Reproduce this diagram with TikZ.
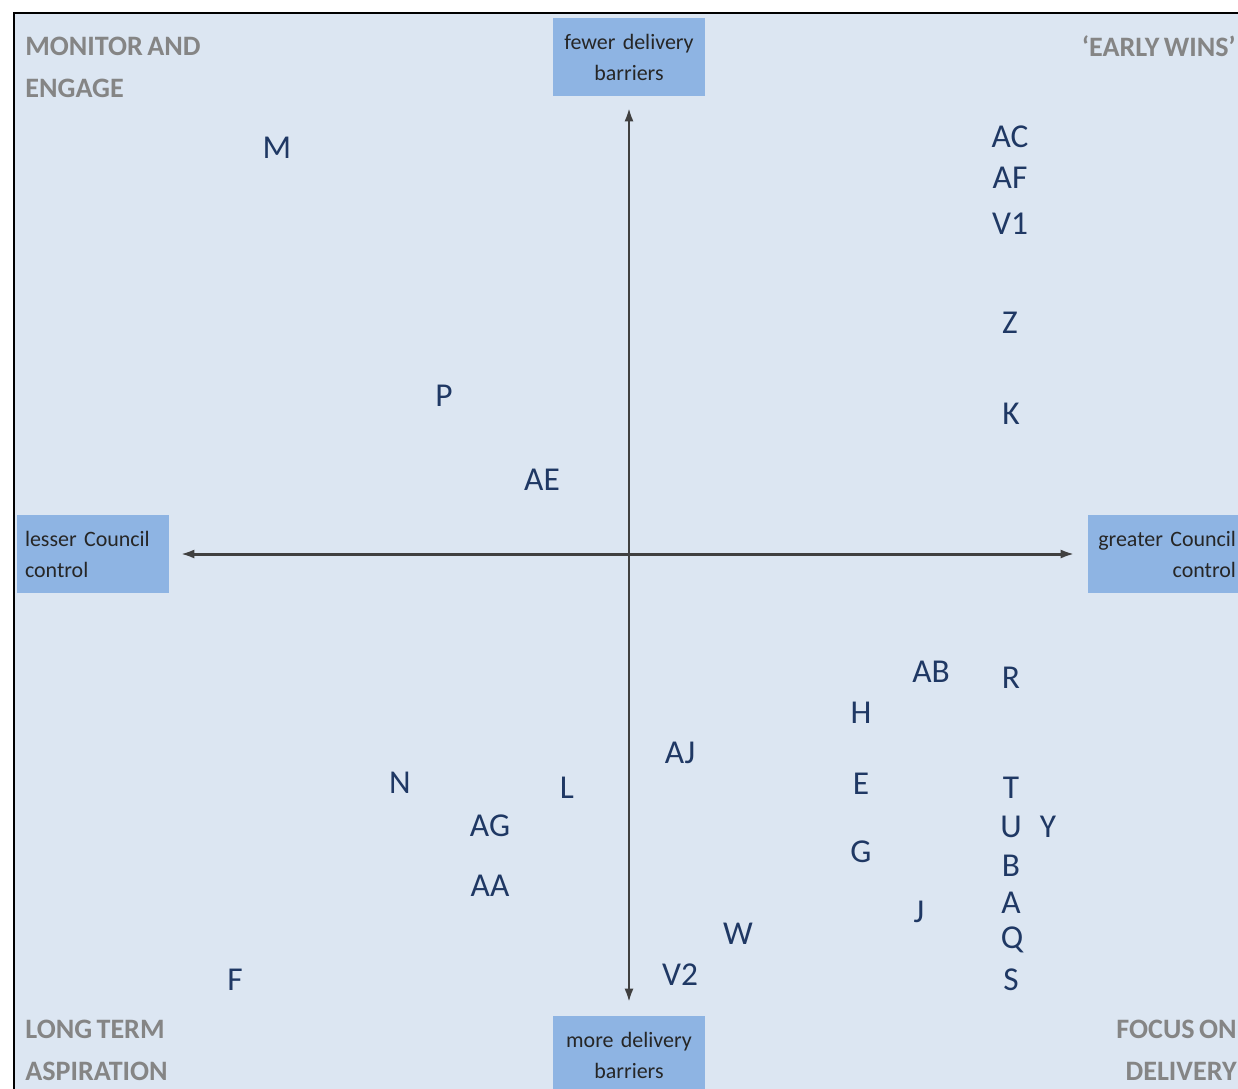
\documentclass[tikz,border=0pt]{standalone}
\usepackage{fontspec}
\setmainfont{Carlito}[WordSpace=0.7]
\usetikzlibrary{arrows.meta, positioning}
\definecolor{panelbg}{HTML}{DCE6F2}
\definecolor{axisfill}{HTML}{8EB4E3}
\definecolor{codeblue}{HTML}{1F3864}
\definecolor{cornergray}{HTML}{858585}
\tikzset{
  axisbox/.style={fill=axisfill, minimum width=3.04cm, minimum height=1.56cm, inner xsep=0.12cm, inner ysep=0pt, text width=2.8cm, text=black!85, font=\fontsize{12.5}{17.6}\selectfont},
  code/.style={text=codeblue, inner sep=0pt, font=\fontsize{19}{22}\selectfont},
  quadrant/.style={text=cornergray, inner sep=0pt, font=\bfseries\fontsize{16}{23.8}\selectfont},
  axis/.style={line width=1.7pt, draw=black!75, {Latex[open, length=0.28cm, width=0.18cm]}-{Latex[open, length=0.28cm, width=0.18cm]}}
}

\begin{document}
\begin{tikzpicture}[x=0.02cm, y=-0.02cm]
\useasboundingbox (0,0) rectangle (1238,1089);
% panel
\fill[panelbg] (14,13) rectangle (1238,1089);
\draw[line width=1.7pt] (14,1089) -- (14,13) -- (1238,13);

% axis end labels
\node[axisbox, align=center] (fewer) at (629,57) {fewer delivery\\barriers};
\node[axisbox, align=center] (more) at (629,1055) {more delivery\\barriers};
\node[axisbox, align=left, inner xsep=0.16cm, text width=2.72cm] (lesser) at (93,554) {lesser Council\\control};
\node[axisbox, align=right, inner xsep=0.08cm, text width=2.88cm] (greater) at (1164,554) {greater Council\\control};

% axes
\draw[axis, shorten <=0.22cm, shorten >=0.26cm] (fewer) -- (more);
\draw[axis, shorten <=0.22cm, shorten >=0.26cm] (lesser) -- (greater);

% quadrant titles
\node[quadrant, anchor=west, align=left] (monitor) at (25,67) {MONITOR AND\\ENGAGE};
\node[quadrant, anchor=east, align=right] (early) at (1236,46) {‘EARLY WINS’};
\node[quadrant, anchor=west, align=left] (longterm) at (25,1050) {LONG TERM\\ASPIRATION};
\node[quadrant, anchor=east, align=right] (focus) at (1237,1050) {FOCUS ON\\DELIVERY};

% items
\node[code] (M) at (277,148) {M};
\node[code] (AC) at (1010,137) {AC};
\node[code] (AF) at (1010,178) {AF};
\node[code] (V1) at (1010,224) {V1};
\node[code] (Z) at (1010,323) {Z};
\node[code] (K) at (1011,414) {K};
\node[code] (P) at (444,396) {P};
\node[code] (AE) at (542,480) {AE};
\node[code] (AB) at (931,672) {AB};
\node[code] (R) at (1011,678) {R};
\node[code] (H) at (861,713) {H};
\node[code] (AJ) at (680,753) {AJ};
\node[code] (N) at (400,783) {N};
\node[code] (L) at (567,788) {L};
\node[code] (E) at (861,784) {E};
\node[code] (T) at (1011,788) {T};
\node[code] (AG) at (490,826) {AG};
\node[code] (U) at (1011,827) {U};
\node[code] (Y) at (1048,827) {Y};
\node[code] (G) at (861,852) {G};
\node[code] (B) at (1011,866) {B};
\node[code] (AA) at (490,886) {AA};
\node[code] (A) at (1011,903) {A};
\node[code] (J) at (919,912) {J};
\node[code] (W) at (738,934) {W};
\node[code] (Q) at (1012,940) {Q};
\node[code] (V2) at (680,975) {V2};
\node[code] (F) at (235,980) {F};
\node[code] (S) at (1011,980) {S};
\end{tikzpicture}
\end{document}
